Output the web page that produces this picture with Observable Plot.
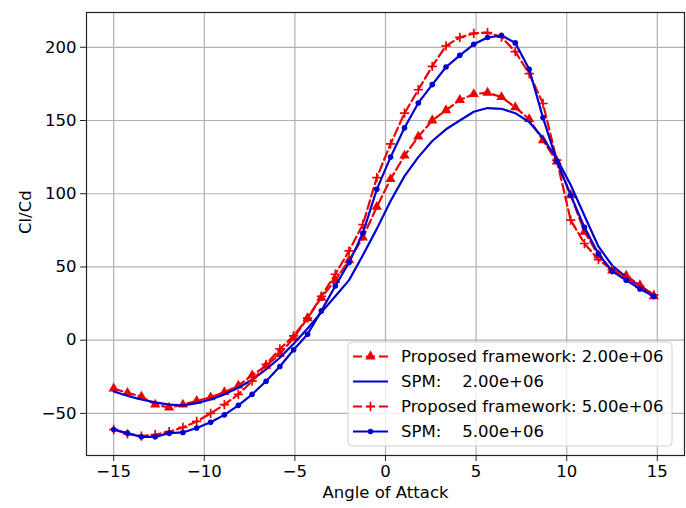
<!DOCTYPE html>
<html><head><meta charset="utf-8">
<script src="https://cdn.jsdelivr.net/npm/d3@7"></script>
<script src="https://cdn.jsdelivr.net/npm/@observablehq/plot@0.6"></script>
<style>body{margin:0;background:#fff} #chart{width:686px;height:508px}</style>
</head><body><div id="chart"></div>
<script>
const angles = [-15.00,-14.24,-13.47,-12.71,-11.94,-11.18,-10.42,-9.65,-8.89,-8.12,-7.36,-6.59,-5.83,-5.07,-4.30,-3.54,-2.77,-2.01,-1.25,-0.48,0.28,1.05,1.81,2.58,3.34,4.10,4.87,5.63,6.40,7.16,7.93,8.69,9.45,10.22,10.98,11.75,12.51,13.28,14.04,14.81];
const pf2 = [-33,-36,-38.5,-44,-46,-44,-41.5,-39,-35.5,-31,-24,-17.5,-9.5,1.5,15,29,41,54.5,70,91,110,126,139,150,157,164,168,169,166,159,151,136.5,122,99,74,58,47.5,44,37.5,30];
const spm2 = [-35,-38,-40.5,-42.5,-44,-44.5,-43,-40.5,-37,-32.5,-27,-20,-12,-2.5,8,19,30,41,58,76,95,112,125,136,144,150,156,158.5,158,155,149,138,124,106,85,64,51,43,37,31];
const pf5 = [-61,-64,-65.5,-64.5,-62.5,-59.6,-55.5,-50,-44,-37,-28,-16.5,-6,3,15,30,45,61,79,111,134,155,171,187,201,206.7,209.5,210,207,197,182,161.6,123,82,66,55,48,43,37,31];
const spm5 = [-61,-63.5,-66,-66,-63.5,-63,-60,-56,-51,-44.5,-37,-28,-18,-6.5,4,20,37,53,73,103,125,145,162,174.5,186.5,194.5,202,206.7,208,203,185,152,122.5,99,77,59,47,41,35,30];
const xTicks = [-15,-10,-5,0,5,10,15];
const yTicks = [-50,0,50,100,150,200];
const legendLabels = ["Proposed framework: 2.00e+06","SPM:    2.00e+06","Proposed framework: 5.00e+06","SPM:    5.00e+06"];
const xLabel = "Angle of Attack";
const yLabel = "Cl/Cd";

const RED = "#ee0000", BLUE = "#0000d0";
const rows = ys => angles.map((a, i) => ({a, v: ys[i]}));
const dPf2 = rows(pf2), dSpm2 = rows(spm2), dPf5 = rows(pf5), dSpm5 = rows(spm5);
const LW = 2.2;
const FS = "16.5px";
const PLUS_R = 3.1;

const chart = Plot.plot({
  width: 686, height: 508,
  marginLeft: 86, marginRight: 2, marginTop: 12, marginBottom: 53,
  style: {fontFamily: "DejaVu Sans", fontSize: FS, color: "#000", background: "#fff"},
  x: {domain: [-16.5, 16.5]},
  y: {domain: [-78.75, 223.75]},
  marks: [
    Plot.gridX(xTicks, {stroke: "#b0b0b0", strokeOpacity: 1, strokeWidth: 1.2}),
    Plot.gridY(yTicks, {stroke: "#b0b0b0", strokeOpacity: 1, strokeWidth: 1.2}),
    Plot.axisX(xTicks, {tickSize: 6, tickPadding: 4, label: null, stroke: "#222"}),
    Plot.axisY(yTicks, {tickSize: 6, tickPadding: 4, label: null, stroke: "#222"}),
    Plot.line(dPf2, {x: "a", y: "v", stroke: RED, strokeWidth: LW, strokeDasharray: "9,4"}),
    Plot.dot(dPf2, {x: "a", y: "v", symbol: "triangle", r: 3.8, fill: RED}),
    Plot.line(dSpm2, {x: "a", y: "v", stroke: BLUE, strokeWidth: LW}),
    Plot.line(dPf5, {x: "a", y: "v", stroke: RED, strokeWidth: LW, strokeDasharray: "9,4"}),
    Plot.dot(dPf5, {x: "a", y: "v", symbol: "plus", r: PLUS_R, stroke: RED, strokeWidth: 1.7, fill: "none"}),
    Plot.line(dSpm5, {x: "a", y: "v", stroke: BLUE, strokeWidth: LW}),
    Plot.dot(dSpm5, {x: "a", y: "v", r: 2.8, fill: BLUE}),
    Plot.frame({stroke: "#222", strokeWidth: 1.2}),
    Plot.text([xLabel], {frameAnchor: "bottom", dy: 42, text: d => d}),
    Plot.text([yLabel], {frameAnchor: "left", rotate: -90, dx: -61, text: d => d})
  ]
});
document.getElementById("chart").appendChild(chart);

// Legend (matplotlib-style box, lower right)
const svg = d3.select(chart);
const lg = svg.append("g").attr("font-family", "DejaVu Sans").attr("font-size", FS);
const bx = 348, by = 342, bw = 324, bh = 104;
lg.append("rect").attr("x", bx).attr("y", by).attr("width", bw).attr("height", bh)
  .attr("rx", 4).attr("fill", "#fff").attr("fill-opacity", 0.8).attr("stroke", "#d0d0d0");
const styles = [
  {c: RED, dash: "9,4", sym: "tri"},
  {c: BLUE, dash: null, sym: null},
  {c: RED, dash: "9,4", sym: "plus"},
  {c: BLUE, dash: null, sym: "dot"}
];
legendLabels.forEach((t, i) => {
  const cy = by + 14.5 + i * 25;
  const s = styles[i];
  const ln = lg.append("line").attr("x1", bx + 5).attr("x2", bx + 40).attr("y1", cy).attr("y2", cy)
    .attr("stroke", s.c).attr("stroke-width", LW);
  if (s.dash) ln.attr("stroke-dasharray", s.dash);
  const mx = bx + 22.5;
  if (s.sym === "tri") lg.append("path").attr("d", d3.symbol(d3.symbolTriangle, 3.8 * 3.8 * Math.PI)()).attr("transform", `translate(${mx},${cy})`).attr("fill", s.c);
  if (s.sym === "plus") lg.append("path").attr("d", d3.symbol(d3.symbolPlus, PLUS_R * PLUS_R * Math.PI)()).attr("transform", `translate(${mx},${cy})`).attr("stroke", s.c).attr("stroke-width", 1.7).attr("fill", "none");
  if (s.sym === "dot") lg.append("circle").attr("cx", mx).attr("cy", cy).attr("r", 2.8).attr("fill", s.c);
  lg.append("text").attr("x", bx + 53).attr("y", cy).attr("dy", "0.36em").attr("fill", "#000")
    .attr("xml:space", "preserve").style("white-space", "pre").attr("text-anchor", "start").text(t);
});
</script>
</body></html>
